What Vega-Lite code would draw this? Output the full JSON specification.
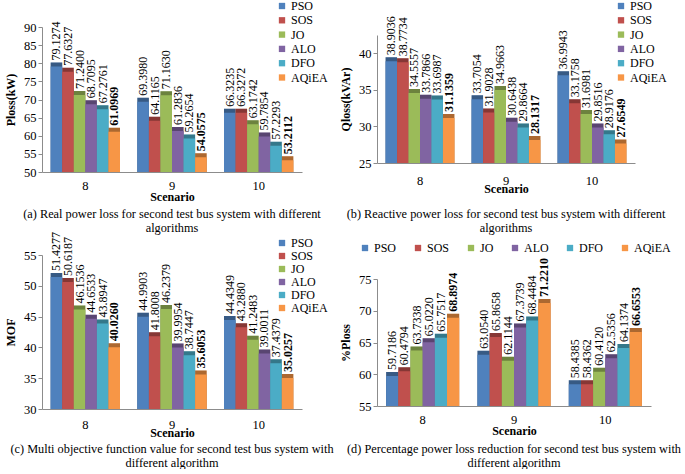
{
  "$schema": "https://vega.github.io/schema/vega-lite/v6.json",
  "padding": {"left": 4, "top": 0, "right": 0, "bottom": 0},
  "background": "white",
  "config": {
    "font": "Liberation Serif",
    "view": {"stroke": null},
    "axis": {"labelFont": "Liberation Serif", "titleFont": "Liberation Serif", "labelFontSize": 12.5, "titleFontSize": 12, "titleFontWeight": "bold", "labelColor": "#000", "titleColor": "#000", "domainColor": "#8c8c8c", "tickColor": "#8c8c8c", "grid": false},
    "axisY": {"tickSize": 4, "labelPadding": 2, "titlePadding": 6},
    "axisX": {"ticks": false, "labelAngle": 0},
    "legend": {"labelFont": "Liberation Serif", "labelFontSize": 12, "labelColor": "#000", "symbolType": "square", "symbolSize": 40, "symbolStrokeWidth": 0, "padding": 0, "rowPadding": 2, "labelOffset": 3},
    "title": {"font": "Liberation Serif", "fontSize": 12.3, "fontWeight": "normal", "color": "#000", "orient": "bottom", "anchor": "middle", "lineHeight": 14},
    "text": {"font": "Liberation Serif"}
  },
  "datasets": {
    "ploss": [
      {"Scenario": "8", "Algorithm": "PSO", "Value": 79.1274},
      {"Scenario": "8", "Algorithm": "SOS", "Value": 77.6327},
      {"Scenario": "8", "Algorithm": "JO", "Value": 71.2400},
      {"Scenario": "8", "Algorithm": "ALO", "Value": 68.7095},
      {"Scenario": "8", "Algorithm": "DFO", "Value": 67.2761},
      {"Scenario": "8", "Algorithm": "AQiEA", "Value": 61.0969},
      {"Scenario": "9", "Algorithm": "PSO", "Value": 69.3980},
      {"Scenario": "9", "Algorithm": "SOS", "Value": 64.1165},
      {"Scenario": "9", "Algorithm": "JO", "Value": 71.1630},
      {"Scenario": "9", "Algorithm": "ALO", "Value": 61.2836},
      {"Scenario": "9", "Algorithm": "DFO", "Value": 59.2654},
      {"Scenario": "9", "Algorithm": "AQiEA", "Value": 54.0575},
      {"Scenario": "10", "Algorithm": "PSO", "Value": 66.3235},
      {"Scenario": "10", "Algorithm": "SOS", "Value": 66.3272},
      {"Scenario": "10", "Algorithm": "JO", "Value": 63.1742},
      {"Scenario": "10", "Algorithm": "ALO", "Value": 59.7854},
      {"Scenario": "10", "Algorithm": "DFO", "Value": 57.2293},
      {"Scenario": "10", "Algorithm": "AQiEA", "Value": 53.2112}
    ],
    "qloss": [
      {"Scenario": "8", "Algorithm": "PSO", "Value": 38.9036},
      {"Scenario": "8", "Algorithm": "SOS", "Value": 38.7734},
      {"Scenario": "8", "Algorithm": "JO", "Value": 34.5557},
      {"Scenario": "8", "Algorithm": "ALO", "Value": 33.7866},
      {"Scenario": "8", "Algorithm": "DFO", "Value": 33.6987},
      {"Scenario": "8", "Algorithm": "AQiEA", "Value": 31.1359},
      {"Scenario": "9", "Algorithm": "PSO", "Value": 33.7054},
      {"Scenario": "9", "Algorithm": "SOS", "Value": 31.9028},
      {"Scenario": "9", "Algorithm": "JO", "Value": 34.9663},
      {"Scenario": "9", "Algorithm": "ALO", "Value": 30.6438},
      {"Scenario": "9", "Algorithm": "DFO", "Value": 29.8664},
      {"Scenario": "9", "Algorithm": "AQiEA", "Value": 28.1317},
      {"Scenario": "10", "Algorithm": "PSO", "Value": 36.9943},
      {"Scenario": "10", "Algorithm": "SOS", "Value": 33.1758},
      {"Scenario": "10", "Algorithm": "JO", "Value": 31.6981},
      {"Scenario": "10", "Algorithm": "ALO", "Value": 29.8516},
      {"Scenario": "10", "Algorithm": "DFO", "Value": 28.9176},
      {"Scenario": "10", "Algorithm": "AQiEA", "Value": 27.6549}
    ],
    "mof": [
      {"Scenario": "8", "Algorithm": "PSO", "Value": 51.4277},
      {"Scenario": "8", "Algorithm": "SOS", "Value": 50.6187},
      {"Scenario": "8", "Algorithm": "JO", "Value": 46.1536},
      {"Scenario": "8", "Algorithm": "ALO", "Value": 44.6533},
      {"Scenario": "8", "Algorithm": "DFO", "Value": 43.8947},
      {"Scenario": "8", "Algorithm": "AQiEA", "Value": 40.0260},
      {"Scenario": "9", "Algorithm": "PSO", "Value": 44.9903},
      {"Scenario": "9", "Algorithm": "SOS", "Value": 41.8008},
      {"Scenario": "9", "Algorithm": "JO", "Value": 46.2379},
      {"Scenario": "9", "Algorithm": "ALO", "Value": 39.9954},
      {"Scenario": "9", "Algorithm": "DFO", "Value": 38.7447},
      {"Scenario": "9", "Algorithm": "AQiEA", "Value": 35.6053},
      {"Scenario": "10", "Algorithm": "PSO", "Value": 44.4349},
      {"Scenario": "10", "Algorithm": "SOS", "Value": 43.2880},
      {"Scenario": "10", "Algorithm": "JO", "Value": 41.2483},
      {"Scenario": "10", "Algorithm": "ALO", "Value": 39.0011},
      {"Scenario": "10", "Algorithm": "DFO", "Value": 37.4379},
      {"Scenario": "10", "Algorithm": "AQiEA", "Value": 35.0257}
    ],
    "pct": [
      {"Scenario": "8", "Algorithm": "PSO", "Value": 59.7186},
      {"Scenario": "8", "Algorithm": "SOS", "Value": 60.4794},
      {"Scenario": "8", "Algorithm": "JO", "Value": 63.7338},
      {"Scenario": "8", "Algorithm": "ALO", "Value": 65.0220},
      {"Scenario": "8", "Algorithm": "DFO", "Value": 65.7517},
      {"Scenario": "8", "Algorithm": "AQiEA", "Value": 68.8974},
      {"Scenario": "9", "Algorithm": "PSO", "Value": 63.0540},
      {"Scenario": "9", "Algorithm": "SOS", "Value": 65.8658},
      {"Scenario": "9", "Algorithm": "JO", "Value": 62.1144},
      {"Scenario": "9", "Algorithm": "ALO", "Value": 67.3739},
      {"Scenario": "9", "Algorithm": "DFO", "Value": 68.4484},
      {"Scenario": "9", "Algorithm": "AQiEA", "Value": 71.2210},
      {"Scenario": "10", "Algorithm": "PSO", "Value": 58.4385},
      {"Scenario": "10", "Algorithm": "SOS", "Value": 58.4362},
      {"Scenario": "10", "Algorithm": "JO", "Value": 60.4120},
      {"Scenario": "10", "Algorithm": "ALO", "Value": 62.5356},
      {"Scenario": "10", "Algorithm": "DFO", "Value": 64.1374},
      {"Scenario": "10", "Algorithm": "AQiEA", "Value": 66.6553}
    ]
  },
  "resolve": {"scale": {"color": "independent", "x": "independent", "y": "independent", "xOffset": "independent"}, "legend": {"color": "independent"}},
  "align": "none",
  "spacing": 5,
  "hconcat": [
    {
      "bounds": "flush",
      "spacing": 83,
      "resolve": {"scale": {"color": "independent", "x": "independent", "y": "independent", "xOffset": "independent"}, "legend": {"color": "independent"}},
      "vconcat": [
        {
          "width": 260, "height": 145,
          "data": {"name": "ploss"},
          "title": {"text": ["(a) Real power loss for second test bus system with different", "algorithms"], "offset": 5},
          "encoding": {
            "x": {"field": "Scenario", "type": "nominal", "sort": ["8", "9", "10"], "scale": {"paddingInner": 0.2, "paddingOuter": 0.1}, "axis": {"title": "Scenario", "labelPadding": 7, "titlePadding": 0}},
            "xOffset": {"field": "Algorithm", "type": "nominal", "sort": ["PSO", "SOS", "JO", "ALO", "DFO", "AQiEA"], "scale": {"paddingInner": 0, "paddingOuter": 0}},
            "y": {"field": "Value", "type": "quantitative", "scale": {"domain": [50, 90], "zero": false, "nice": false}, "axis": {"values": [50, 55, 60, 65, 70, 75, 80, 85, 90], "title": "Ploss(kW)"}}
          },
          "layer": [
            {"mark": {"type": "bar", "xOffset": 4, "yOffset": -4, "clip": true}, "encoding": {"color": {"field": "Algorithm", "type": "nominal", "sort": ["PSO", "SOS", "JO", "ALO", "DFO", "AQiEA"], "scale": {"domain": ["PSO", "SOS", "JO", "ALO", "DFO", "AQiEA"], "range": ["#4F81BD", "#C0504D", "#9BBB59", "#8064A2", "#4BACC6", "#F79646"]}, "legend": {"orient": "none", "legendX": 234, "legendY": -27, "title": null, "rowPadding": 2.3}}}},
            {"mark": {"type": "bar", "xOffset": 4, "yOffset": -4, "color": "#000", "opacity": 0.3, "clip": true}},
            {"mark": {"type": "bar", "clip": true}, "encoding": {"color": {"field": "Algorithm", "type": "nominal", "sort": ["PSO", "SOS", "JO", "ALO", "DFO", "AQiEA"], "scale": {"domain": ["PSO", "SOS", "JO", "ALO", "DFO", "AQiEA"], "range": ["#4F81BD", "#C0504D", "#9BBB59", "#8064A2", "#4BACC6", "#F79646"]}}}},
            {"transform": [{"filter": "datum.Algorithm != 'AQiEA'"}], "mark": {"type": "text", "angle": 270, "align": "left", "baseline": "middle", "dx": 6, "fontSize": 12, "color": "#000"}, "encoding": {"text": {"field": "Value", "type": "quantitative", "format": ".4f"}}},
            {"transform": [{"filter": "datum.Algorithm == 'AQiEA'"}], "mark": {"type": "text", "angle": 270, "align": "left", "baseline": "middle", "dx": 6, "fontSize": 12, "fontWeight": "bold", "color": "#000"}, "encoding": {"text": {"field": "Value", "type": "quantitative", "format": ".4f"}}}
          ]
        },
        {
          "width": 260, "height": 154,
          "data": {"name": "mof"},
          "title": {"text": ["(c) Multi objective function value for second test bus system with", "different algorithm"], "offset": 4},
          "encoding": {
            "x": {"field": "Scenario", "type": "nominal", "sort": ["8", "9", "10"], "scale": {"paddingInner": 0.2, "paddingOuter": 0.1}, "axis": {"title": "Scenario", "labelPadding": 9, "titlePadding": -3}},
            "xOffset": {"field": "Algorithm", "type": "nominal", "sort": ["PSO", "SOS", "JO", "ALO", "DFO", "AQiEA"], "scale": {"paddingInner": 0, "paddingOuter": 0}},
            "y": {"field": "Value", "type": "quantitative", "scale": {"domain": [30, 55], "zero": false, "nice": false}, "axis": {"values": [30, 35, 40, 45, 50, 55], "title": "MOF"}}
          },
          "layer": [
            {"mark": {"type": "bar", "xOffset": 4, "yOffset": -4, "clip": true}, "encoding": {"color": {"field": "Algorithm", "type": "nominal", "sort": ["PSO", "SOS", "JO", "ALO", "DFO", "AQiEA"], "scale": {"domain": ["PSO", "SOS", "JO", "ALO", "DFO", "AQiEA"], "range": ["#4F81BD", "#C0504D", "#9BBB59", "#8064A2", "#4BACC6", "#F79646"]}, "legend": {"orient": "none", "legendX": 234, "legendY": -18, "title": null, "rowPadding": 1}}}},
            {"mark": {"type": "bar", "xOffset": 4, "yOffset": -4, "color": "#000", "opacity": 0.3, "clip": true}},
            {"mark": {"type": "bar", "clip": true}, "encoding": {"color": {"field": "Algorithm", "type": "nominal", "sort": ["PSO", "SOS", "JO", "ALO", "DFO", "AQiEA"], "scale": {"domain": ["PSO", "SOS", "JO", "ALO", "DFO", "AQiEA"], "range": ["#4F81BD", "#C0504D", "#9BBB59", "#8064A2", "#4BACC6", "#F79646"]}}}},
            {"transform": [{"filter": "datum.Algorithm != 'AQiEA'"}], "mark": {"type": "text", "angle": 270, "align": "left", "baseline": "middle", "dx": 6, "fontSize": 12, "color": "#000"}, "encoding": {"text": {"field": "Value", "type": "quantitative", "format": ".4f"}}},
            {"transform": [{"filter": "datum.Algorithm == 'AQiEA'"}], "mark": {"type": "text", "angle": 270, "align": "left", "baseline": "middle", "dx": 6, "fontSize": 12, "fontWeight": "bold", "color": "#000"}, "encoding": {"text": {"field": "Value", "type": "quantitative", "format": ".4f"}}}
          ]
        }
      ]
    },
    {
      "bounds": "flush",
      "spacing": 116,
      "resolve": {"scale": {"color": "independent", "x": "independent", "y": "independent", "xOffset": "independent"}, "legend": {"color": "independent"}},
      "vconcat": [
        {
          "width": 258, "height": 136,
          "data": {"name": "qloss"},
          "title": {"text": ["(b) Reactive power loss for second test bus system with different", "algorithms"], "offset": 13},
          "encoding": {
            "x": {"field": "Scenario", "type": "nominal", "sort": ["8", "9", "10"], "scale": {"paddingInner": 0.2, "paddingOuter": 0.1}, "axis": {"title": "Scenario", "labelPadding": 11, "titlePadding": -3}},
            "xOffset": {"field": "Algorithm", "type": "nominal", "sort": ["PSO", "SOS", "JO", "ALO", "DFO", "AQiEA"], "scale": {"paddingInner": 0, "paddingOuter": 0}},
            "y": {"field": "Value", "type": "quantitative", "scale": {"domain": [25, 42.5], "range": [136, 8], "zero": false, "nice": false}, "axis": {"values": [25, 30, 35, 40], "title": "Qloss(kVAr)"}}
          },
          "layer": [
            {"mark": {"type": "bar", "xOffset": 4, "yOffset": -4, "clip": true}, "encoding": {"color": {"field": "Algorithm", "type": "nominal", "sort": ["PSO", "SOS", "JO", "ALO", "DFO", "AQiEA"], "scale": {"domain": ["PSO", "SOS", "JO", "ALO", "DFO", "AQiEA"], "range": ["#4F81BD", "#C0504D", "#9BBB59", "#8064A2", "#4BACC6", "#F79646"]}, "legend": {"orient": "none", "legendX": 238, "legendY": -27, "title": null, "rowPadding": 2.3}}}},
            {"mark": {"type": "bar", "xOffset": 4, "yOffset": -4, "color": "#000", "opacity": 0.3, "clip": true}},
            {"mark": {"type": "bar", "clip": true}, "encoding": {"color": {"field": "Algorithm", "type": "nominal", "sort": ["PSO", "SOS", "JO", "ALO", "DFO", "AQiEA"], "scale": {"domain": ["PSO", "SOS", "JO", "ALO", "DFO", "AQiEA"], "range": ["#4F81BD", "#C0504D", "#9BBB59", "#8064A2", "#4BACC6", "#F79646"]}}}},
            {"transform": [{"filter": "datum.Algorithm != 'AQiEA'"}], "mark": {"type": "text", "angle": 270, "align": "left", "baseline": "middle", "dx": 6, "fontSize": 12, "color": "#000"}, "encoding": {"text": {"field": "Value", "type": "quantitative", "format": ".4f"}}},
            {"transform": [{"filter": "datum.Algorithm == 'AQiEA'"}], "mark": {"type": "text", "angle": 270, "align": "left", "baseline": "middle", "dx": 6, "fontSize": 12, "fontWeight": "bold", "color": "#000"}, "encoding": {"text": {"field": "Value", "type": "quantitative", "format": ".4f"}}}
          ]
        },
        {
          "width": 274, "height": 127,
          "data": {"name": "pct"},
          "title": {"text": ["(d) Percentage power loss reduction for second test bus system with", "different algorithm"], "offset": 6},
          "encoding": {
            "x": {"field": "Scenario", "type": "nominal", "sort": ["8", "9", "10"], "scale": {"paddingInner": 0.2, "paddingOuter": 0.1}, "axis": {"title": "Scenario", "labelPadding": 7, "titlePadding": 0}},
            "xOffset": {"field": "Algorithm", "type": "nominal", "sort": ["PSO", "SOS", "JO", "ALO", "DFO", "AQiEA"], "scale": {"paddingInner": 0, "paddingOuter": 0}},
            "y": {"field": "Value", "type": "quantitative", "scale": {"domain": [55, 75], "zero": false, "nice": false}, "axis": {"values": [55, 60, 65, 70, 75], "title": "%Ploss"}}
          },
          "layer": [
            {"mark": {"type": "bar", "xOffset": 4, "yOffset": -4, "clip": true}, "encoding": {"color": {"field": "Algorithm", "type": "nominal", "sort": ["PSO", "SOS", "JO", "ALO", "DFO", "AQiEA"], "scale": {"domain": ["PSO", "SOS", "JO", "ALO", "DFO", "AQiEA"], "range": ["#4F81BD", "#C0504D", "#9BBB59", "#8064A2", "#4BACC6", "#F79646"]}, "legend": {"orient": "none", "direction": "horizontal", "legendX": -18, "legendY": -37, "title": null, "columnPadding": 15}}}},
            {"mark": {"type": "bar", "xOffset": 4, "yOffset": -4, "color": "#000", "opacity": 0.3, "clip": true}},
            {"mark": {"type": "bar", "clip": true}, "encoding": {"color": {"field": "Algorithm", "type": "nominal", "sort": ["PSO", "SOS", "JO", "ALO", "DFO", "AQiEA"], "scale": {"domain": ["PSO", "SOS", "JO", "ALO", "DFO", "AQiEA"], "range": ["#4F81BD", "#C0504D", "#9BBB59", "#8064A2", "#4BACC6", "#F79646"]}}}},
            {"transform": [{"filter": "datum.Algorithm != 'AQiEA'"}], "mark": {"type": "text", "angle": 270, "align": "left", "baseline": "middle", "dx": 6, "fontSize": 12, "color": "#000"}, "encoding": {"text": {"field": "Value", "type": "quantitative", "format": ".4f"}}},
            {"transform": [{"filter": "datum.Algorithm == 'AQiEA'"}], "mark": {"type": "text", "angle": 270, "align": "left", "baseline": "middle", "dx": 6, "fontSize": 12, "fontWeight": "bold", "color": "#000"}, "encoding": {"text": {"field": "Value", "type": "quantitative", "format": ".4f"}}}
          ]
        }
      ]
    }
  ]
}
